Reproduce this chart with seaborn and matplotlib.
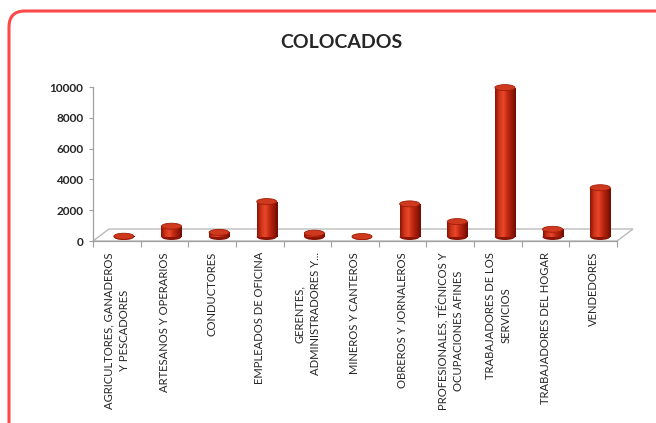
import numpy as np
import pandas as pd
import matplotlib
matplotlib.use('Agg')
import matplotlib.pyplot as plt
import matplotlib.transforms as mtransforms
from matplotlib.patches import FancyBboxPatch, Polygon, Ellipse
from matplotlib.colors import LinearSegmentedColormap
import seaborn as sns

# datos
ocupaciones = [
    'AGRICULTORES, GANADEROS\nY PESCADORES',
    'ARTESANOS Y OPERARIOS',
    'CONDUCTORES',
    'EMPLEADOS DE OFICINA',
    'GERENTES,\nADMINISTRADORES Y...',
    'MINEROS Y CANTEROS',
    'OBREROS Y JORNALEROS',
    'PROFESIONALES, TÉCNICOS Y\nOCUPACIONES AFINES',
    'TRABAJADORES DE LOS\nSERVICIOS',
    'TRABAJADORES DEL HOGAR',
    'VENDEDORES',
]
colocados = [50, 700, 300, 2300, 250, 30, 2150, 1000, 9700, 500, 3200]
y_ticks = [0, 2000, 4000, 6000, 8000, 10000]

sns.set_theme(style='white')
plt.rcParams['font.family'] = ['Lato', 'DejaVu Sans']

W, H = 656, 423
fig = plt.figure(figsize=(W / 100, H / 100), dpi=100)
ax = fig.add_axes([93 / W, 1 - 241 / H, 524 / W, 154 / H])
ax.set_facecolor('none')

df = pd.DataFrame({'ocupacion': ocupaciones, 'colocados': colocados})
sns.barplot(data=df, x='ocupacion', y='colocados', color='#c42812',
            saturation=1, width=0.42, ax=ax, zorder=3)

# desplazamiento de profundidad (efecto 3D)
shift = mtransforms.ScaledTranslation(7 / 100, 4 / 100, fig.dpi_scale_trans)
t_bar = ax.transData + shift

cil = LinearSegmentedColormap.from_list(
    'cil', ['#8a1406', '#d23418', '#e5482a', '#c42812', '#9a1a08', '#6e0e04'])
grad = np.linspace(0, 1, 64).reshape(1, -1)
px_y = 154 / 10000  # pixeles por unidad
cap_h = 6 / px_y

for p in list(ax.patches):
    p.set_transform(t_bar)
    p.set_clip_on(False)
    p.set_edgecolor('none')
    x0, y0, w, h = p.get_x(), p.get_y(), p.get_width(), p.get_height()
    im = ax.imshow(grad, cmap=cil, extent=(x0, x0 + w, y0, y0 + h),
                   aspect='auto', zorder=3, transform=t_bar)
    im.set_clip_path(p)
    ax.add_patch(Ellipse((x0 + w / 2, y0), w, cap_h, transform=t_bar,
                         facecolor='#8a1406', edgecolor='none', zorder=2.9,
                         clip_on=False))
    ax.add_patch(Ellipse((x0 + w / 2, y0 + h), w, cap_h, transform=t_bar,
                         facecolor='#cf3a1e', edgecolor='#a11c08', lw=0.6,
                         zorder=3.1, clip_on=False))

ax.set_xlim(-0.5, len(ocupaciones) - 0.5)
ax.set_ylim(0, 10000)

# piso
fig.canvas.draw()
front = ax.transData.transform([(-0.5, 0), (len(ocupaciones) - 0.5, 0)])
back = front + np.array([16, 12])
floor = Polygon(np.vstack([front, back[::-1]]), closed=True,
                transform=mtransforms.IdentityTransform(),
                facecolor='white', edgecolor='#b4b4b4', lw=0.9, zorder=1,
                clip_on=False)
ax.add_patch(floor)

for s in ['top', 'right']:
    ax.spines[s].set_visible(False)
for s in ['left', 'bottom']:
    ax.spines[s].set_color('#a0a0a0')
    ax.spines[s].set_linewidth(0.9)

ax.set_yticks(y_ticks)
ax.set_yticklabels([str(v) for v in y_ticks], fontweight='bold', fontsize=8.5)
ax.tick_params(axis='y', left=True, length=3, width=0.8, color='#a0a0a0', pad=4)

ax.set_xticks(range(len(ocupaciones)))
ax.set_xticklabels(ocupaciones, rotation=90, ha='center', va='top',
                   fontsize=8.1, linespacing=1.5)
ax.set_xticks(np.arange(-0.5, len(ocupaciones)), minor=True)
ax.tick_params(axis='x', which='major', length=0, pad=8)
ax.tick_params(axis='x', which='minor', bottom=True, length=4, width=0.8,
               color='#a0a0a0')
ax.set_xlabel('')
ax.set_ylabel('')

fig.text(0.52, 1 - 42 / H, 'COLOCADOS', ha='center', va='center',
         fontweight='bold', fontsize=14)

borde = FancyBboxPatch((9, -30), 700, H - 11 + 30,
                       boxstyle='round,pad=0,rounding_size=16',
                       transform=mtransforms.IdentityTransform(),
                       facecolor='none', edgecolor='#ff4848', lw=2.2)
fig.patches.append(borde)

fig.savefig('out.png', dpi=100)
